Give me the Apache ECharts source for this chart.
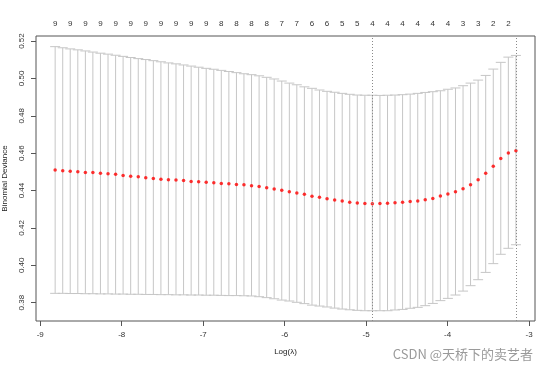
<!DOCTYPE html>
<html>
<head>
<meta charset="utf-8">
<script src="https://cdn.jsdelivr.net/npm/echarts@6/dist/echarts.min.js"></script>
<style>
html,body{margin:0;padding:0;background:#fff;}
#c{width:554px;height:367px;}
</style>
</head>
<body>
<div id="c"></div>
<script>
// log(lambda) for each fitted model
var logLambda = [-8.817,-8.724,-8.632,-8.539,-8.446,-8.354,-8.261,-8.168,-8.075,-7.983,
  -7.890,-7.797,-7.705,-7.612,-7.519,-7.427,-7.334,-7.241,-7.148,-7.056,
  -6.963,-6.870,-6.778,-6.685,-6.592,-6.500,-6.407,-6.314,-6.221,-6.129,
  -6.036,-5.943,-5.851,-5.758,-5.665,-5.573,-5.480,-5.387,-5.294,-5.202,
  -5.109,-5.016,-4.924,-4.831,-4.738,-4.646,-4.553,-4.460,-4.367,-4.275,
  -4.182,-4.089,-3.997,-3.904,-3.811,-3.719,-3.626,-3.533,-3.440,-3.348,
  -3.255,-3.162];
// mean cross-validated binomial deviance
var cvMean = [0.4510,0.4506,0.4503,0.4501,0.4497,0.4496,0.4492,0.4490,0.4487,0.4481,
  0.4476,0.4474,0.4469,0.4465,0.4460,0.4458,0.4456,0.4454,0.4449,0.4447,
  0.4444,0.4442,0.4438,0.4437,0.4433,0.4431,0.4426,0.4422,0.4415,0.4408,
  0.4401,0.4394,0.4387,0.4380,0.4369,0.4364,0.4356,0.4349,0.4344,0.4337,
  0.4333,0.4331,0.4330,0.4331,0.4332,0.4335,0.4337,0.4341,0.4344,0.4351,
  0.4358,0.4371,0.4381,0.4394,0.4410,0.4431,0.4458,0.4492,0.4530,0.4572,
  0.4601,0.4613];
// upper error bar (mean + sd)
var cvUpper = [0.5170,0.5164,0.5158,0.5153,0.5147,0.5141,0.5135,0.5130,0.5124,0.5118,
  0.5112,0.5106,0.5101,0.5095,0.5089,0.5083,0.5078,0.5072,0.5066,0.5060,
  0.5054,0.5049,0.5043,0.5037,0.5031,0.5025,0.5020,0.5014,
  0.5006,0.4997,0.4986,0.4975,0.4966,0.4955,0.4947,0.4938,0.4931,0.4926,
  0.4920,0.4915,0.4911,0.4910,0.4910,0.4909,0.4910,0.4911,
  0.4913,0.4916,0.4920,0.4925,0.4929,0.4934,0.4942,0.4949,0.4961,0.4975,
  0.4991,0.5016,0.5050,0.5086,0.5114,0.5123];
// lower error bar (mean - sd)
var cvLower = [0.3850,0.3850,0.3849,0.3849,0.3848,0.3848,0.3847,0.3847,0.3846,0.3846,
  0.3845,0.3845,0.3844,0.3844,0.3843,0.3843,0.3842,0.3842,0.3841,0.3841,
  0.3840,0.3840,0.3839,0.3838,0.3838,0.3837,0.3836,
  0.3832,0.3827,0.3821,0.3814,0.3809,0.3802,0.3795,0.3787,0.3782,0.3777,
  0.3771,0.3766,0.3762,0.3759,0.3757,0.3757,0.3757,0.3757,
  0.3761,0.3764,0.3770,0.3775,0.3784,0.3796,0.3811,0.3823,0.3841,0.3862,
  0.3891,0.3923,0.3962,0.4009,0.4059,0.4091,0.4110];
// number of non-zero coefficients shown on the top axis (every second model)
var nzLabels = ['9','9','9','9','9','9','9','9','9','9','9',
  '8','8','8','8','7','7','6','6','5','5',
  '4','4','4','4','4','4','3','3','2','2'];
var xTicks = [-9,-8,-7,-6,-5,-4,-3];
var yTicks = [0.38,0.40,0.42,0.44,0.46,0.48,0.50,0.52];
var lambdaMin = -4.924;
var lambda1se = -3.162;

var topTickLambda = logLambda.filter(function(_, i){ return i % 2 === 0; });
var XMIN = -9.052, XMAX = -2.928, YMIN = 0.3702, YMAX = 0.5227;
var FONT = 'Liberation Sans, Arial, sans-serif';

var chart = echarts.init(document.getElementById('c'), null, {renderer:'canvas'});
chart.setOption({
  animation: false,
  backgroundColor: '#fff',
  title: {
    text: 'CSDN @天桥下的卖艺者',
    right: 16, top: 343,
    textStyle: {fontSize: 13, fontWeight: 'normal', color: '#9a9a9a', fontFamily: 'Noto Sans CJK SC, sans-serif'}
  },
  grid: {left: 36, right: 19, top: 36, bottom: 46, show: true, borderColor: '#555', borderWidth: 1,
    backgroundColor: 'transparent', containLabel: false, outerBoundsMode: 'none'},
  xAxis: [{
    type: 'value', position: 'bottom', min: XMIN, max: XMAX,
    axisLine: {show: false}, splitLine: {show: false},
    axisTick: {show: true, length: 5, lineStyle: {color: '#555'}, customValues: xTicks},
    axisLabel: {customValues: xTicks, formatter: function(v){ return String(v); }, fontSize: 8, color: '#333', margin: 10, fontFamily: FONT},
    name: 'Log(λ)', nameLocation: 'middle', nameGap: 27,
    nameTextStyle: {fontSize: 8, color: '#222', fontFamily: FONT}
  }, {
    type: 'value', position: 'top', min: XMIN, max: XMAX,
    axisLine: {show: false}, splitLine: {show: false}, axisTick: {show: false},
    axisLabel: {
      customValues: topTickLambda,
      formatter: function(v){
        var best = 0, bd = 1e9;
        for (var j = 0; j < topTickLambda.length; j++) {
          var d = Math.abs(topTickLambda[j] - v);
          if (d < bd) { bd = d; best = j; }
        }
        return nzLabels[best];
      },
      fontSize: 8, color: '#333', margin: 8, fontFamily: FONT
    }
  }],
  yAxis: {
    type: 'value', min: YMIN, max: YMAX,
    axisLine: {show: false}, splitLine: {show: false},
    axisTick: {show: true, length: 5, lineStyle: {color: '#555'}, customValues: yTicks},
    axisLabel: {customValues: yTicks, rotate: 90, formatter: function(v){ return v.toFixed(2); }, fontSize: 8, color: '#333', margin: 10, fontFamily: FONT},
    name: 'Binomial Deviance', nameLocation: 'middle', nameRotate: 90, nameGap: 27,
    nameTextStyle: {fontSize: 8, color: '#222', fontFamily: FONT}
  },
  series: [{
    type: 'custom',
    xAxisIndex: 0,
    data: logLambda.map(function(x, i){ return [x, cvLower[i], cvUpper[i]]; }),
    renderItem: function(params, api){
      var x = api.value(0);
      var top = api.coord([x, api.value(2)]);
      var bot = api.coord([x, api.value(1)]);
      var w = 5;
      var st = {stroke: '#c6c6c6', lineWidth: 1};
      return {type: 'group', children: [
        {type: 'line', shape: {x1: top[0], y1: top[1], x2: bot[0], y2: bot[1]}, style: st},
        {type: 'line', shape: {x1: top[0]-w, y1: top[1], x2: top[0]+w, y2: top[1]}, style: st},
        {type: 'line', shape: {x1: bot[0]-w, y1: bot[1], x2: bot[0]+w, y2: bot[1]}, style: st}
      ]};
    },
    silent: true, z: 2
  }, {
    type: 'scatter',
    xAxisIndex: 0,
    data: logLambda.map(function(x, i){ return [x, cvMean[i]]; }),
    symbol: 'circle', symbolSize: 3.5,
    itemStyle: {color: '#ff0000'},
    z: 4,
    markLine: {
      silent: true, symbol: 'none', label: {show: false},
      lineStyle: {type: [1, 2], color: '#8a8a8a', width: 1},
      data: [{xAxis: lambdaMin}, {xAxis: lambda1se}]
    }
  }]
});
</script>
</body>
</html>
